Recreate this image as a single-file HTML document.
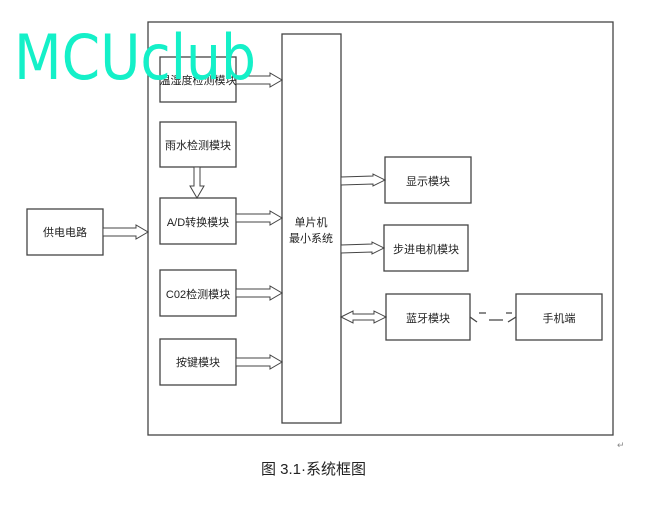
<!DOCTYPE html>
<html><head><meta charset="utf-8"><style>
body{margin:0;background:#fff;width:654px;height:508px;overflow:hidden}
text{font-family:"Liberation Sans","Noto Sans CJK SC",sans-serif;font-size:11px;fill:#222}
</style></head><body>
<svg width="654" height="508" xmlns="http://www.w3.org/2000/svg">
<g fill="#fff" stroke="#444" stroke-width="1.3">
<rect x="148" y="22" width="465" height="413"/>
<rect x="282" y="34" width="59" height="389"/>
<rect x="160" y="57" width="76" height="45"/>
<rect x="160" y="122" width="76" height="45"/>
<rect x="160" y="198" width="76" height="46"/>
<rect x="160" y="270" width="76" height="46"/>
<rect x="160" y="339" width="76" height="46"/>
<rect x="27" y="209" width="76" height="46"/>
<rect x="385" y="157" width="86" height="46"/>
<rect x="384" y="225" width="84" height="46"/>
<rect x="386" y="294" width="84" height="46"/>
<rect x="516" y="294" width="86" height="46"/>
</g>
<g fill="#fff" stroke="#444" stroke-width="1">
<polygon points="236,76 270,76 270,73 282,80 270,87 270,84 236,84"/>
<polygon points="236,214 270,214 270,211 282,218 270,225 270,222 236,222"/>
<polygon points="236,289 270,289 270,286 282,293 270,300 270,297 236,297"/>
<polygon points="236,358 270,358 270,355 282,362 270,369 270,366 236,366"/>
<polygon points="103,228 136,228 136,225 148,232 136,239 136,236 103,236"/>
<polygon points="194,167 200,167 200,186 204,186 197,198 190,186 194,186"/>
<polygon points="341,177 373,176 373,174 385,180 373,186 373,184 341,185"/>
<polygon points="341,245 372,244 372,242 384,248 372,254 372,252 341,253"/>
<polygon points="341,317 353,311 353,314 374,314 374,311 386,317 374,323 374,320 353,320 353,323"/>
</g>
<g stroke="#444" stroke-width="1.3" fill="none">
<path d="M470,317 L477,322 M479,313 L486,313 M489,320 L503,320 M506,313 L512,313 M508,322 L516,317"/>
</g>
<text x="198" y="84" text-anchor="middle">温湿度检测模块</text>
<text x="198" y="149" text-anchor="middle">雨水检测模块</text>
<text x="198" y="226" text-anchor="middle">A/D转换模块</text>
<text x="198" y="298" text-anchor="middle">C02检测模块</text>
<text x="198" y="366" text-anchor="middle">按键模块</text>
<text x="65" y="236" text-anchor="middle">供电电路</text>
<text x="311" y="226" text-anchor="middle">单片机</text>
<text x="311" y="242" text-anchor="middle">最小系统</text>
<text x="428" y="185" text-anchor="middle">显示模块</text>
<text x="426" y="253" text-anchor="middle">步进电机模块</text>
<text x="428" y="322" text-anchor="middle">蓝牙模块</text>
<text x="559" y="322" text-anchor="middle">手机端</text>
<text x="261" y="474" style="font-size:15px">图 3.1·系统框图</text>
<text x="617" y="448" style="font-size:9px;fill:#888">↵</text>
<text x="14" y="79" style="font-size:62px;fill:#14f0c8;font-family:'DejaVu Sans',sans-serif" textLength="242" lengthAdjust="spacingAndGlyphs">MCUclub</text>
</svg>
</body></html>
